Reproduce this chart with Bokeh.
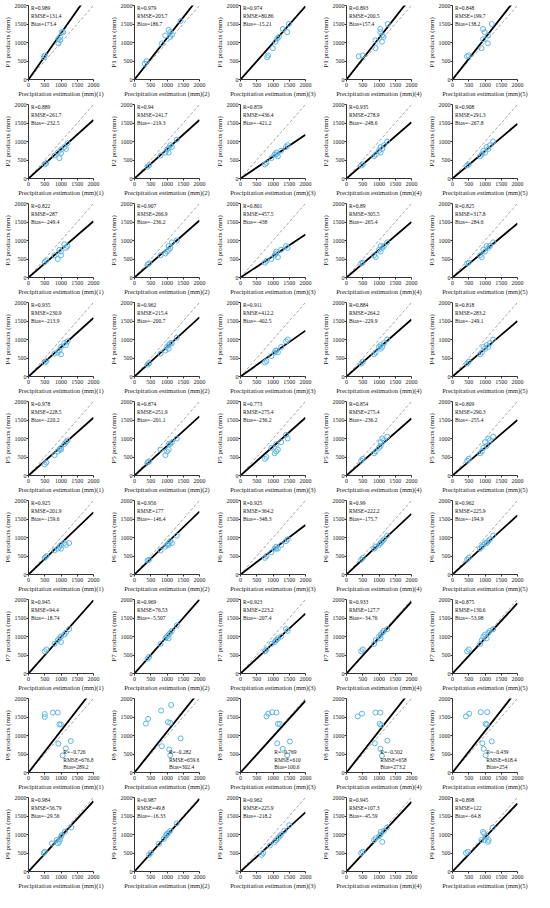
from bokeh.plotting import figure
from bokeh.layouts import gridplot
from bokeh.models import Range1d, FixedTicker, ColumnDataSource, Label
from bokeh.embed import file_html
from bokeh.resources import INLINE

# ---------------- data ----------------
TICKS = [0, 500, 1000, 1500, 2000]
PRODUCTS = ["P1", "P2", "P3", "P4", "P5", "P6", "P7", "P8", "P9"]
METHODS = ["(1)", "(2)", "(3)", "(4)", "(5)"]

P1_X = [[470, 500, 920, 970, 1020, 1070, 920, 970],
        [316, 368, 840, 1050, 1100, 1100, 1155, 1420, 945],
        [820, 850, 995, 1077, 1130, 1180, 1300, 1436, 1490],
        [376, 495, 891, 891, 1040, 1040, 1090, 1090, 1140, 1267],
        [445, 495, 891, 940, 990, 940, 1090, 1090, 1208]]
P1_Y = [[600, 650, 1100, 1150, 1280, 1280, 975, 1060],
        [426, 496, 975, 1340, 1280, 1150, 1210, 1580, 1190],
        [600, 650, 845, 1020, 1105, 1150, 1365, 1280, 1500],
        [626, 652, 845, 1060, 1365, 1280, 1190, 1020, 1150, 1500],
        [626, 652, 845, 1365, 1280, 1087, 1190, 975, 1500]]
P1_SLOPE = [1.25, 1.12, 0.99, 1.12, 1.12]
P1_R = ["0.989", "0.979", "0.974", "0.893", "0.848"]
P1_RMSE = ["131.4", "203.7", "80.86", "200.5", "199.7"]
P1_BIAS = ["173.4", "186.7", "\u221215.21", "157.4", "138.2"]

P2_X = [[500, 550, 800, 900, 950, 1000, 1000, 1100, 1150, 1200],
        [400, 450, 800, 1000, 1050, 1050, 1100, 1150, 1300, 950],
        [750, 800, 950, 1050, 1100, 1150, 1250, 1400, 1450, 1100],
        [450, 500, 850, 900, 1000, 1050, 1050, 1100, 1150, 1250],
        [450, 500, 850, 900, 950, 1000, 1050, 1100, 1150, 1250]]
P2_Y = [[380, 420, 620, 700, 550, 780, 680, 850, 800, 950],
        [320, 360, 620, 780, 820, 700, 900, 850, 1050, 700],
        [380, 420, 550, 650, 700, 600, 750, 850, 900, 650],
        [350, 380, 600, 650, 750, 700, 850, 800, 900, 1000],
        [350, 380, 600, 650, 750, 700, 850, 800, 900, 1000]]
P2_SLOPE = [0.79, 0.79, 0.59, 0.76, 0.74]
P2_R = ["0.889", "0.94", "0.859", "0.935", "0.908"]
P2_RMSE = ["261.7", "241.7", "436.4", "278.9", "291.3"]
P2_BIAS = ["\u2212232.5", "\u2212219.3", "\u2212421.2", "\u2212248.6", "\u2212267.8"]

P3_X = [[500, 550, 800, 900, 950, 1000, 1000, 1100, 1150, 1200],
        [400, 450, 800, 1000, 1050, 1050, 1100, 1150, 1300, 950],
        [750, 800, 950, 1050, 1100, 1150, 1250, 1400, 1450, 1100],
        [450, 500, 850, 900, 1000, 1050, 1050, 1100, 1150, 1250],
        [450, 500, 850, 900, 950, 1000, 1050, 1100, 1150, 1250]]
P3_Y = [[420, 460, 600, 500, 750, 700, 600, 900, 800, 850],
        [350, 380, 600, 700, 850, 750, 800, 950, 1000, 650],
        [400, 450, 500, 600, 700, 550, 750, 850, 800, 650],
        [380, 400, 600, 550, 750, 700, 850, 800, 850, 950],
        [380, 400, 600, 550, 750, 700, 850, 800, 850, 950]]
P3_SLOPE = [0.76, 0.77, 0.58, 0.75, 0.73]
P3_R = ["0.822", "0.907", "0.801", "0.89", "0.825"]
P3_RMSE = ["287", "266.9", "457.5", "305.5", "317.8"]
P3_BIAS = ["\u2212249.4", "\u2212236.2", "\u2212438", "\u2212265.4", "\u2212284.6"]

P4_X = [[500, 550, 800, 900, 950, 1000, 1000, 1100, 1150, 1200],
        [400, 450, 800, 1000, 1050, 1050, 1100, 1150, 1300, 950],
        [750, 800, 950, 1050, 1100, 1150, 1250, 1400, 1450, 1100],
        [450, 500, 850, 900, 1000, 1050, 1050, 1100, 1150, 1250],
        [450, 500, 850, 900, 950, 1000, 1050, 1100, 1150, 1250]]
P4_Y = [[380, 420, 620, 650, 700, 800, 600, 900, 850, 950],
        [320, 360, 620, 800, 850, 750, 900, 900, 1050, 700],
        [380, 420, 550, 650, 700, 650, 800, 950, 1000, 700],
        [350, 400, 600, 650, 800, 750, 850, 800, 900, 1000],
        [350, 400, 600, 650, 800, 750, 850, 800, 900, 1000]]
P4_SLOPE = [0.79, 0.80, 0.62, 0.77, 0.75]
P4_R = ["0.935", "0.962", "0.911", "0.884", "0.818"]
P4_RMSE = ["230.9", "215.4", "412.2", "264.2", "283.2"]
P4_BIAS = ["\u2212213.9", "\u2212200.7", "\u2212402.5", "\u2212229.9", "\u2212249.1"]

P5_X = [[500, 550, 800, 900, 950, 1000, 1000, 1100, 1150, 1200],
        [400, 450, 800, 1000, 1050, 1050, 1100, 1150, 1300, 950],
        [750, 800, 950, 1050, 1100, 1150, 1250, 1400, 1450, 1100],
        [450, 500, 850, 900, 1000, 1050, 1050, 1100, 1150, 1250],
        [450, 500, 850, 900, 950, 1000, 1050, 1100, 1150, 1250]]
P5_Y = [[300, 350, 550, 650, 700, 750, 700, 850, 900, 950],
        [350, 380, 700, 650, 850, 700, 850, 900, 1000, 550],
        [450, 500, 750, 600, 850, 700, 900, 1100, 1000, 650],
        [400, 450, 600, 650, 750, 900, 800, 1000, 950, 1050],
        [400, 450, 600, 650, 750, 900, 800, 1000, 950, 1050]]
P5_SLOPE = [0.78, 0.80, 0.78, 0.77, 0.75]
P5_R = ["0.978", "0.874", "0.773", "0.854", "0.809"]
P5_RMSE = ["228.5", "251.9", "275.4", "275.4", "290.3"]
P5_BIAS = ["\u2212220.2", "\u2212201.1", "\u2212236.2", "\u2212236.2", "\u2212255.4"]

P6_X = [[500, 550, 800, 900, 950, 1000, 1000, 1100, 1150, 1250],
        [400, 450, 800, 1000, 1050, 1050, 1100, 1150, 1300, 950],
        [750, 800, 950, 1050, 1100, 1150, 1250, 1400, 1450, 1100],
        [450, 500, 850, 900, 1000, 1050, 1050, 1100, 1150, 1250],
        [450, 500, 850, 900, 950, 1000, 1050, 1100, 1150, 1250]]
P6_Y = [[450, 500, 650, 700, 750, 800, 700, 850, 800, 850],
        [380, 400, 650, 800, 850, 800, 900, 850, 1050, 750],
        [450, 500, 600, 700, 750, 700, 800, 900, 950, 700],
        [400, 450, 700, 750, 800, 850, 850, 900, 950, 1050],
        [400, 450, 700, 750, 800, 850, 850, 900, 950, 1050]]
P6_SLOPE = [0.84, 0.85, 0.67, 0.82, 0.80]
P6_R = ["0.925", "0.956", "0.925", "0.99", "0.962"]
P6_RMSE = ["201.9", "177", "364.2", "222.2", "225.9"]
P6_BIAS = ["\u2212159.6", "\u2212146.4", "\u2212348.3", "\u2212175.7", "\u2212194.9"]

P7_X = [[500, 550, 800, 900, 950, 1000, 1000, 1100, 1150, 1250],
        [400, 450, 800, 1000, 1050, 1050, 1100, 1150, 1300, 950],
        [750, 800, 950, 1050, 1100, 1150, 1250, 1400, 1450, 1100],
        [450, 500, 850, 900, 1000, 1050, 1050, 1100, 1150, 1250],
        [450, 500, 850, 900, 950, 1000, 1050, 1100, 1150, 1250]]
P7_Y = [[600, 650, 800, 900, 950, 1000, 850, 1050, 1100, 1200],
        [400, 450, 800, 1000, 1050, 950, 1100, 1150, 1300, 950],
        [600, 650, 800, 850, 900, 950, 1000, 1200, 1150, 900],
        [600, 650, 800, 900, 1000, 1050, 950, 1100, 1150, 1200],
        [600, 650, 800, 900, 1000, 1050, 950, 1100, 1150, 1200]]
P7_SLOPE = [0.99, 1.0, 0.81, 0.97, 0.95]
P7_R = ["0.945", "0.969", "0.923", "0.933", "0.875"]
P7_RMSE = ["94.4", "76.53", "223.2", "127.7", "130.6"]
P7_BIAS = ["\u221218.74", "\u22125.507", "\u2212207.4", "\u221234.76", "\u221253.98"]

P8_X = [[500, 500, 750, 900, 950, 1000, 920, 1300, 1150, 1050],
        [350, 420, 820, 1126, 1030, 1100, 842, 1420, 1070, 1100],
        [800, 850, 975, 1108, 1150, 1210, 1130, 1520, 1300, 1436],
        [346, 475, 891, 1040, 1020, 1070, 871, 1257, 1040, 1090],
        [415, 515, 871, 1069, 1020, 1060, 920, 1208, 960, 1020]]
P8_Y = [[1580, 1500, 1620, 1620, 1300, 1300, 780, 850, 650, 460],
        [1320, 1450, 1675, 1825, 1360, 1340, 710, 920, 620, 465],
        [1517, 1590, 1630, 1620, 1315, 1315, 790, 840, 640, 465],
        [1517, 1590, 1620, 1620, 1315, 1280, 790, 860, 640, 450],
        [1517, 1590, 1630, 1630, 1315, 1300, 790, 840, 640, 465]]
P8_SLOPE = [1.13, 1.10, 0.97, 1.12, 1.12]
P8_R = ["\u22120.726", "\u22120.282", "\u22120.769", "\u22120.502", "\u22120.439"]
P8_RMSE = ["676.8", "659.6", "610", "658", "618.4"]
P8_BIAS = ["289.2", "302.4", "100.6", "273.2", "254"]

P9_X = [[470, 500, 720, 870, 900, 940, 1000, 1020, 1120, 1320, 970],
        [450, 500, 750, 900, 950, 1000, 1000, 1050, 1100, 1300],
        [650, 700, 900, 1050, 1100, 1150, 1200, 1250, 1350, 1500],
        [450, 500, 850, 900, 1000, 1050, 1050, 1100, 1150, 1250],
        [415, 475, 890, 940, 970, 1040, 1090, 990, 1238, 1110]]
P9_Y = [[500, 535, 760, 850, 760, 800, 940, 985, 1070, 1190, 870],
        [450, 500, 750, 880, 950, 1000, 1020, 1050, 1100, 1300],
        [450, 500, 700, 800, 850, 900, 950, 1000, 1100, 1250],
        [500, 535, 850, 900, 950, 1070, 1000, 800, 1100, 1190],
        [500, 535, 850, 1070, 1030, 940, 800, 850, 1190, 850]]
P9_SLOPE = [0.95, 0.98, 0.80, 0.94, 0.92]
P9_R = ["0.984", "0.987", "0.962", "0.945", "0.898"]
P9_RMSE = ["56.79", "49.8", "225.9", "107.3", "122"]
P9_BIAS = ["\u221229.56", "\u221216.33", "\u2212218.2", "\u221245.59", "\u221264.8"]

ALL_X = [P1_X, P2_X, P3_X, P4_X, P5_X, P6_X, P7_X, P8_X, P9_X]
ALL_Y = [P1_Y, P2_Y, P3_Y, P4_Y, P5_Y, P6_Y, P7_Y, P8_Y, P9_Y]
ALL_SLOPE = [P1_SLOPE, P2_SLOPE, P3_SLOPE, P4_SLOPE, P5_SLOPE, P6_SLOPE, P7_SLOPE, P8_SLOPE, P9_SLOPE]
ALL_R = [P1_R, P2_R, P3_R, P4_R, P5_R, P6_R, P7_R, P8_R, P9_R]
ALL_RMSE = [P1_RMSE, P2_RMSE, P3_RMSE, P4_RMSE, P5_RMSE, P6_RMSE, P7_RMSE, P8_RMSE, P9_RMSE]
ALL_BIAS = [P1_BIAS, P2_BIAS, P3_BIAS, P4_BIAS, P5_BIAS, P6_BIAS, P7_BIAS, P8_BIAS, P9_BIAS]

# ---------------- style ----------------
FONT = "Liberation Serif"
W, H = 106, 99
POINT_COLOR = "#5DB6E6"
P8_TEXT_X = [1070, 1060, 1040, 1040, 1040]


def make_panel(r, c):
    p = figure(width=W, height=H, output_backend="svg", toolbar_location=None,
               x_range=Range1d(0, 2000), y_range=Range1d(0, 2000),
               min_border_left=0, min_border_right=13, min_border_top=5,
               min_border_bottom=0)
    p.outline_line_color = None
    p.grid.visible = False
    p.background_fill_color = "white"
    p.border_fill_color = "white"
    for ax in (p.xaxis[0], p.yaxis[0]):
        ax.ticker = FixedTicker(ticks=TICKS)
        ax.minor_tick_line_color = None
        ax.major_tick_in = 0
        ax.major_tick_out = 2
        ax.major_label_standoff = 1
        ax.axis_label_standoff = 0
        ax.major_label_text_font = FONT
        ax.major_label_text_font_size = "6px"
        ax.major_label_text_color = "#222222"
        ax.axis_label_text_font = FONT
        ax.axis_label_text_font_size = "6.5px"
        ax.axis_label_text_font_style = "normal"
        ax.axis_label_text_color = "#222222"
        ax.axis_line_color = "#333333"
        ax.major_tick_line_color = "#333333"
    p.yaxis.major_label_standoff = 0
    p.yaxis.axis_label_text_font_size = "7px"
    p.xaxis.axis_label = "Precipitation estimation (mm)" + METHODS[c]
    p.yaxis.axis_label = PRODUCTS[r] + " products (mm)"

    # 1:1 line
    p.line(x=[TICKS[0], TICKS[-1]], y=[TICKS[0], TICKS[-1]], line_color="#A5A5A5",
           line_dash="3 2", line_width=1)
    # fitted line through origin
    s = ALL_SLOPE[r][c]
    p.line(x=[0, 2000], y=[0, 2000 * s], line_color="black", line_width=1.8)
    # points
    src = ColumnDataSource(dict(x=ALL_X[r][c], y=ALL_Y[r][c]))
    p.scatter(x="x", y="y", source=src, marker="circle", size=5,
              fill_color=None, line_color=POINT_COLOR, line_width=1)
    texts = ["R=" + ALL_R[r][c], "RMSE=" + ALL_RMSE[r][c], "Bias=" + ALL_BIAS[r][c]]
    if PRODUCTS[r] == "P8":
        tx = P8_TEXT_X[c]
        ty = [560, 350, 140]
    else:
        tx = 80
        ty = [1930, 1720, 1510]
    for t, yy in zip(texts, ty):
        p.add_layout(Label(x=tx, y=yy, text=t, text_font=FONT, text_font_size="5.5px",
                           text_baseline="middle", text_align="left",
                           text_color="#111111"))
    return p


grid = [[make_panel(r, c) for c in range(5)] for r in range(9)]
layout = gridplot(grid, toolbar_location=None)

open("out.html", "w").write(file_html(layout, INLINE))
